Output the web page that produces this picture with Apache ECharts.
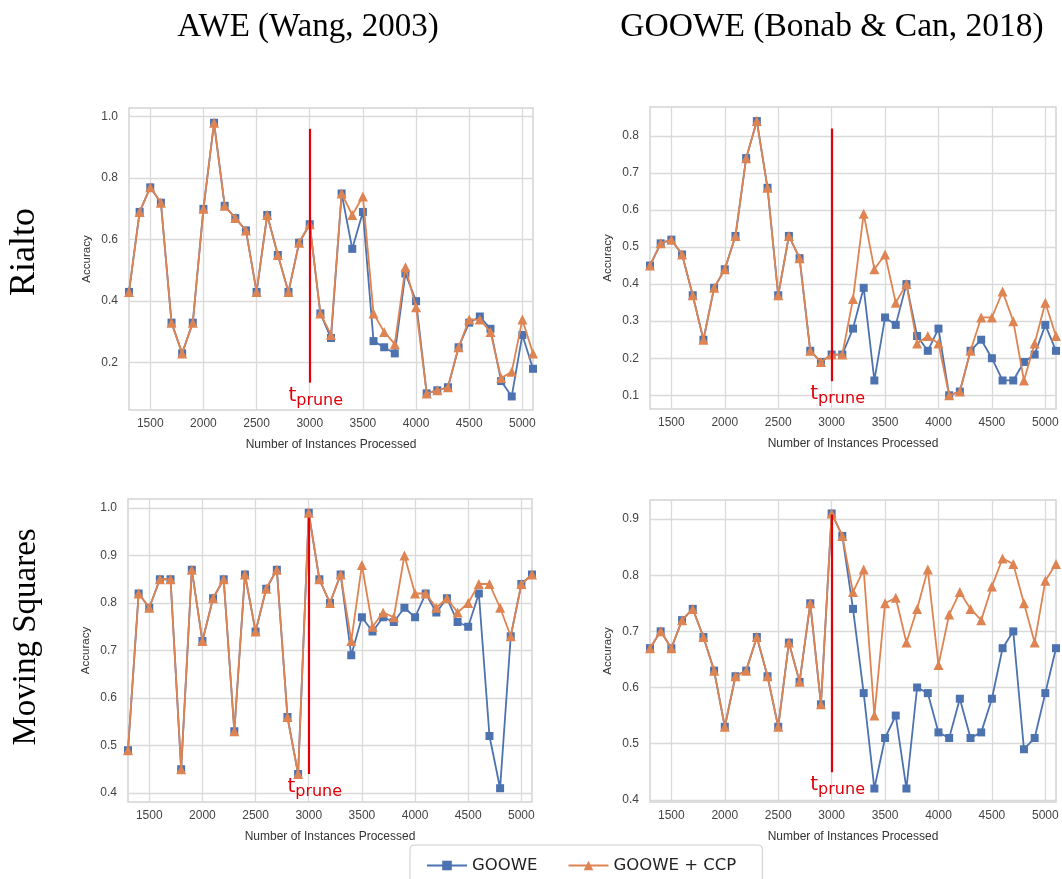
<!DOCTYPE html>
<html>
<head>
<meta charset="utf-8">
<script src="https://cdn.jsdelivr.net/npm/echarts@6/dist/echarts.min.js"></script>
<style>
html, body { margin: 0; padding: 0; background: #fff; }
#chart { width: 1062px; height: 879px; }
</style>
</head>
<body>
<div id="chart"></div>
<script>
// x positions (instances processed)
const instances = [1300, 1400, 1500, 1600, 1700, 1800, 1900, 2000, 2100, 2200,
  2300, 2400, 2500, 2600, 2700, 2800, 2900, 3000, 3100, 3200,
  3300, 3400, 3500, 3600, 3700, 3800, 3900, 4000, 4100, 4200,
  4300, 4400, 4500, 4600, 4700, 4800, 4900, 5000, 5100];
const xTicks = [1500, 2000, 2500, 3000, 3500, 4000, 4500, 5000];
const pruneAt = 3000;

// Rialto, AWE
const rialtoAweGoowe = [0.43, 0.69, 0.77, 0.72, 0.33, 0.23, 0.33, 0.70, 0.98, 0.71,
  0.67, 0.63, 0.43, 0.68, 0.55, 0.43, 0.59, 0.65, 0.36, 0.28,
  0.75, 0.57, 0.69, 0.27, 0.25, 0.23, 0.49, 0.40, 0.10, 0.11,
  0.12, 0.25, 0.33, 0.35, 0.31, 0.14, 0.09, 0.29, 0.18];
const rialtoAweCcp = [0.43, 0.69, 0.77, 0.72, 0.33, 0.23, 0.33, 0.70, 0.98, 0.71,
  0.67, 0.63, 0.43, 0.68, 0.55, 0.43, 0.59, 0.65, 0.36, 0.29,
  0.75, 0.68, 0.74, 0.36, 0.30, 0.26, 0.51, 0.38, 0.10, 0.11,
  0.12, 0.25, 0.34, 0.34, 0.30, 0.15, 0.17, 0.34, 0.23];

// Rialto, GOOWE
const rialtoGooweGoowe = [0.45, 0.51, 0.52, 0.48, 0.37, 0.25, 0.39, 0.44, 0.53, 0.74,
  0.84, 0.66, 0.37, 0.53, 0.47, 0.22, 0.19, 0.21, 0.21, 0.28,
  0.39, 0.14, 0.31, 0.29, 0.40, 0.26, 0.22, 0.28, 0.10, 0.11,
  0.22, 0.25, 0.20, 0.14, 0.14, 0.19, 0.21, 0.29, 0.22];
const rialtoGooweCcp = [0.45, 0.51, 0.52, 0.48, 0.37, 0.25, 0.39, 0.44, 0.53, 0.74,
  0.84, 0.66, 0.37, 0.53, 0.47, 0.22, 0.19, 0.21, 0.21, 0.36,
  0.59, 0.44, 0.48, 0.35, 0.40, 0.24, 0.26, 0.24, 0.10, 0.11,
  0.22, 0.31, 0.31, 0.38, 0.30, 0.14, 0.24, 0.35, 0.26];

// Moving Squares, AWE
const squaresAweGoowe = [0.49, 0.82, 0.79, 0.85, 0.85, 0.45, 0.87, 0.72, 0.81, 0.85,
  0.53, 0.86, 0.74, 0.83, 0.87, 0.56, 0.44, 0.99, 0.85, 0.80,
  0.86, 0.69, 0.77, 0.74, 0.77, 0.76, 0.79, 0.77, 0.82, 0.78,
  0.81, 0.76, 0.75, 0.82, 0.52, 0.41, 0.73, 0.84, 0.86];
const squaresAweCcp = [0.49, 0.82, 0.79, 0.85, 0.85, 0.45, 0.87, 0.72, 0.81, 0.85,
  0.53, 0.86, 0.74, 0.83, 0.87, 0.56, 0.44, 0.99, 0.85, 0.80,
  0.86, 0.72, 0.88, 0.75, 0.78, 0.77, 0.90, 0.82, 0.82, 0.79,
  0.81, 0.78, 0.80, 0.84, 0.84, 0.79, 0.73, 0.84, 0.86];

// Moving Squares, GOOWE
const squaresGooweGoowe = [0.67, 0.70, 0.67, 0.72, 0.74, 0.69, 0.63, 0.53, 0.62, 0.63,
  0.69, 0.62, 0.53, 0.68, 0.61, 0.75, 0.57, 0.91, 0.87, 0.74,
  0.59, 0.42, 0.51, 0.55, 0.42, 0.60, 0.59, 0.52, 0.51, 0.58,
  0.51, 0.52, 0.58, 0.67, 0.70, 0.49, 0.51, 0.59, 0.67];
const squaresGooweCcp = [0.67, 0.70, 0.67, 0.72, 0.74, 0.69, 0.63, 0.53, 0.62, 0.63,
  0.69, 0.62, 0.53, 0.68, 0.61, 0.75, 0.57, 0.91, 0.87, 0.77,
  0.81, 0.55, 0.75, 0.76, 0.68, 0.74, 0.81, 0.64, 0.73, 0.77,
  0.74, 0.72, 0.78, 0.83, 0.82, 0.75, 0.68, 0.79, 0.82];

// y axis ticks per panel
const yTicksRialtoAwe = [0.2, 0.4, 0.6, 0.8, 1.0];
const yTicksRialtoGoowe = [0.1, 0.2, 0.3, 0.4, 0.5, 0.6, 0.7, 0.8];
const yTicksSquaresAwe = [0.4, 0.5, 0.6, 0.7, 0.8, 0.9, 1.0];
const yTicksSquaresGoowe = [0.4, 0.5, 0.6, 0.7, 0.8, 0.9];

const blue = '#4c72b0';
const orange = '#dd8452';
const red = '#e3000b';
const sans = 'Liberation Sans';

const panels = [
  { box: { left: 129, top: 108, width: 404, height: 302 }, yMin: 0.046, yMax: 1.028,
    yTicks: yTicksRialtoAwe, goowe: rialtoAweGoowe, ccp: rialtoAweCcp, prune: [0.135, 0.96] },
  { box: { left: 650, top: 107, width: 406, height: 302 }, yMin: 0.063, yMax: 0.878,
    yTicks: yTicksRialtoGoowe, goowe: rialtoGooweGoowe, ccp: rialtoGooweCcp, prune: [0.138, 0.82] },
  { box: { left: 128, top: 499, width: 404, height: 303 }, yMin: 0.381, yMax: 1.019,
    yTicks: yTicksSquaresAwe, goowe: squaresAweGoowe, ccp: squaresAweCcp, prune: [0.44, 0.98] },
  { box: { left: 650, top: 500, width: 406, height: 302 }, yMin: 0.396, yMax: 0.934,
    yTicks: yTicksSquaresGoowe, goowe: squaresGooweGoowe, ccp: squaresGooweCcp, prune: [0.449, 0.908] }
];

function pairs(values) {
  return instances.map((x, i) => [x, values[i]]);
}

const grids = [], xAxes = [], yAxes = [], series = [];
panels.forEach((p, i) => {
  grids.push(Object.assign({ show: true, borderColor: '#d4d4d4', borderWidth: 1.5, backgroundColor: '#fff' }, p.box));
  xAxes.push({
    gridIndex: i, type: 'value', min: 1300, max: 5100,
    name: 'Number of Instances Processed', nameLocation: 'middle', nameGap: 29,
    nameTextStyle: { color: '#333', fontSize: 12, fontFamily: sans },
    axisLine: { show: false },
    axisTick: { show: false, customValues: xTicks },
    axisLabel: { customValues: xTicks, color: '#444', fontSize: 12, fontFamily: sans, margin: 8,
      formatter: v => String(v) },
    splitLine: { show: true, lineStyle: { color: '#dadada', width: 1.3 } }
  });
  yAxes.push({
    gridIndex: i, type: 'value', min: p.yMin, max: p.yMax,
    name: 'Accuracy', nameLocation: 'middle', nameGap: 36,
    nameTextStyle: { color: '#333', fontSize: 11.5, fontFamily: sans },
    axisLine: { show: false },
    axisTick: { show: false, customValues: p.yTicks },
    axisLabel: { customValues: p.yTicks, color: '#444', fontSize: 12, fontFamily: sans, margin: 11,
      formatter: v => v.toFixed(1) },
    splitLine: { show: true, lineStyle: { color: '#dadada', width: 1.3 } }
  });
  series.push({
    type: 'line', name: 'GOOWE', xAxisIndex: i, yAxisIndex: i,
    data: pairs(p.goowe), symbol: 'rect', symbolSize: 8, showAllSymbol: true,
    lineStyle: { color: blue, width: 1.8 }, itemStyle: { color: blue },
    z: 2
  });
  series.push({
    type: 'line', name: 'GOOWE + CCP', xAxisIndex: i, yAxisIndex: i,
    data: pairs(p.ccp), symbol: 'triangle', symbolSize: 10, showAllSymbol: true,
    lineStyle: { color: orange, width: 1.8 }, itemStyle: { color: orange },
    z: 3,
    markLine: {
      silent: true, symbol: ['none', 'none'], z: 5,
      lineStyle: { color: red, width: 2.2, type: 'solid' },
      label: {
        show: true, position: 'start', distance: 0, offset: [6, 0],
        formatter: '{t|t}{s|prune}',
        rich: {
          t: { color: red, fontSize: 20, fontFamily: 'DejaVu Sans' },
          s: { color: red, fontSize: 16, fontFamily: 'DejaVu Sans', padding: [10, 0, 0, 0] }
        }
      },
      data: [[{ coord: [pruneAt, p.prune[0]] }, { coord: [pruneAt, p.prune[1]] }]]
    }
  });
});

const serif = 'Liberation Serif';
const chart = echarts.init(document.getElementById('chart'));
chart.setOption({
  animation: false,
  backgroundColor: '#fff',
  grid: grids,
  xAxis: xAxes,
  yAxis: yAxes,
  series: series,
  legend: {
    data: ['GOOWE', 'GOOWE + CCP'], left: 410, top: 845,
    itemWidth: 40, itemHeight: 12, itemGap: 30,
    padding: [12, 26, 12, 16], borderColor: '#cccccc', borderWidth: 1, borderRadius: 4,
    textStyle: { fontFamily: 'DejaVu Sans', fontSize: 16.5, color: '#222' }
  },
  graphic: [
    { type: 'text', x: 308, y: 27, style: { text: 'AWE (Wang, 2003)', fontFamily: serif, fontSize: 33, fill: '#000', align: 'center', verticalAlign: 'middle' } },
    { type: 'text', x: 832, y: 27, style: { text: 'GOOWE (Bonab & Can, 2018)', fontFamily: serif, fontSize: 33.5, fill: '#000', align: 'center', verticalAlign: 'middle' } },
    { type: 'text', x: 25, y: 252, rotation: Math.PI / 2, style: { text: 'Rialto', fontFamily: serif, fontSize: 36, fill: '#000', align: 'center', verticalAlign: 'middle' } },
    { type: 'text', x: 26, y: 637, rotation: Math.PI / 2, style: { text: 'Moving Squares', fontFamily: serif, fontSize: 33, fill: '#000', align: 'center', verticalAlign: 'middle' } }
  ]
});
</script>
</body>
</html>
